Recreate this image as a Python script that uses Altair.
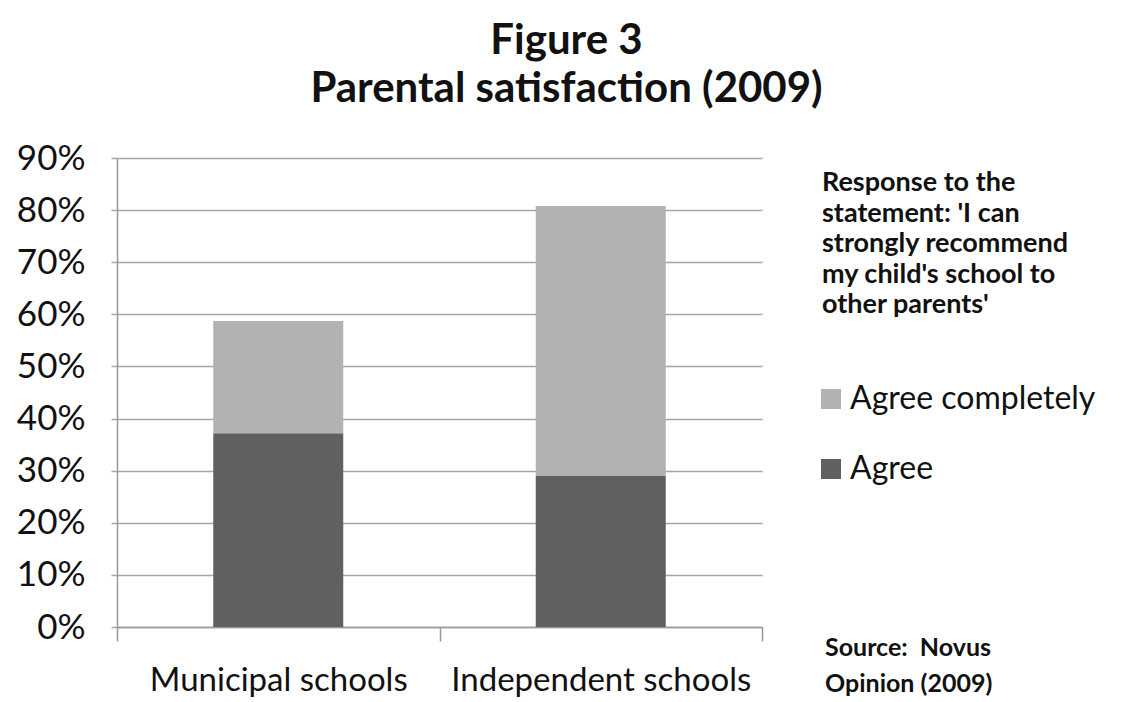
import altair as alt
import pandas as pd

categories = ["Municipal schools", "Independent schools"]
agree = [37.2, 29.0]
agree_completely = [21.5, 51.8]
series = ["Agree completely", "Agree"]
colors = ["#b2b2b2", "#606060"]

rows = []
for c, a, ac in zip(categories, agree, agree_completely):
    rows.append({"school": c, "response": "Agree", "value": a / 100, "ord": 0})
    rows.append({"school": c, "response": "Agree completely", "value": ac / 100, "ord": 1})
df = pd.DataFrame(rows)

FONT = "Lato"

bars = alt.Chart(df).mark_bar(size=130).encode(
    x=alt.X("school:N", sort=categories, title=None,
            scale=alt.Scale(paddingInner=0, paddingOuter=0),
            axis=alt.Axis(labelAngle=0, tickBand="extent", tickSize=14, labelPadding=23,
                          labelFontSize=33, labelFont=FONT, labelColor="#111", labelLimit=0,
                          domainColor="#999", tickColor="#999", domainWidth=1.5, tickWidth=1.5,
                          grid=False)),
    y=alt.Y("value:Q", stack="zero", title=None,
            scale=alt.Scale(domain=[0, 0.9], nice=False),
            axis=alt.Axis(format=".0%", values=[i / 10 for i in range(10)], tickSize=6,
                          labelPadding=26, labelFontSize=35, labelFont=FONT, labelColor="#111",
                          gridColor="#a6a6a6", gridWidth=1.5, domainColor="#999",
                          domainWidth=1.5, tickColor="#a6a6a6", tickWidth=1.5)),
    color=alt.Color("response:N", scale=alt.Scale(domain=series, range=colors),
                    legend=alt.Legend(
                        title=["Response to the", "statement: 'I can",
                               "strongly recommend", "my child's school to",
                               "other parents'"],
                        orient="none", legendX=705, legendY=12,
                        titleFont=FONT, titleFontSize=27, titleFontWeight="bold",
                        titleLineHeight=30.5, titleColor="#111", titlePadding=64,
                        titleLimit=0, labelLimit=0,
                        labelFont=FONT, labelFontSize=32, labelColor="#111",
                        symbolType="square", symbolSize=400, symbolStrokeWidth=0,
                        symbolOffset=-7,
                        rowPadding=38, labelOffset=3, padding=0)),
    order=alt.Order("ord:Q"),
)

source = alt.Chart(pd.DataFrame({"t": ["source"]})).mark_text(
    text=["Source:\u00a0\u00a0Novus", "Opinion (2009)"], align="left", baseline="top",
    font=FONT, fontSize=25, fontWeight="bold", lineHeight=36, color="#111"
).encode(x=alt.value(708), y=alt.value(478))

chart = alt.layer(bars, source).properties(
    width=645, height=469,
    autosize=alt.AutoSizeParams(type="none"),
    padding={"left": 109, "top": 150, "right": 355, "bottom": 74},
    title=alt.TitleParams(["Figure 3", "Parental satisfaction (2009)"], font=FONT,
                          fontSize=42, fontWeight="bold", lineHeight=48, color="#111",
                          anchor="middle", dx=127, offset=30),
).configure_view(stroke=None)

chart.save("out.html", embed_options={"renderer": "svg", "actions": False})
